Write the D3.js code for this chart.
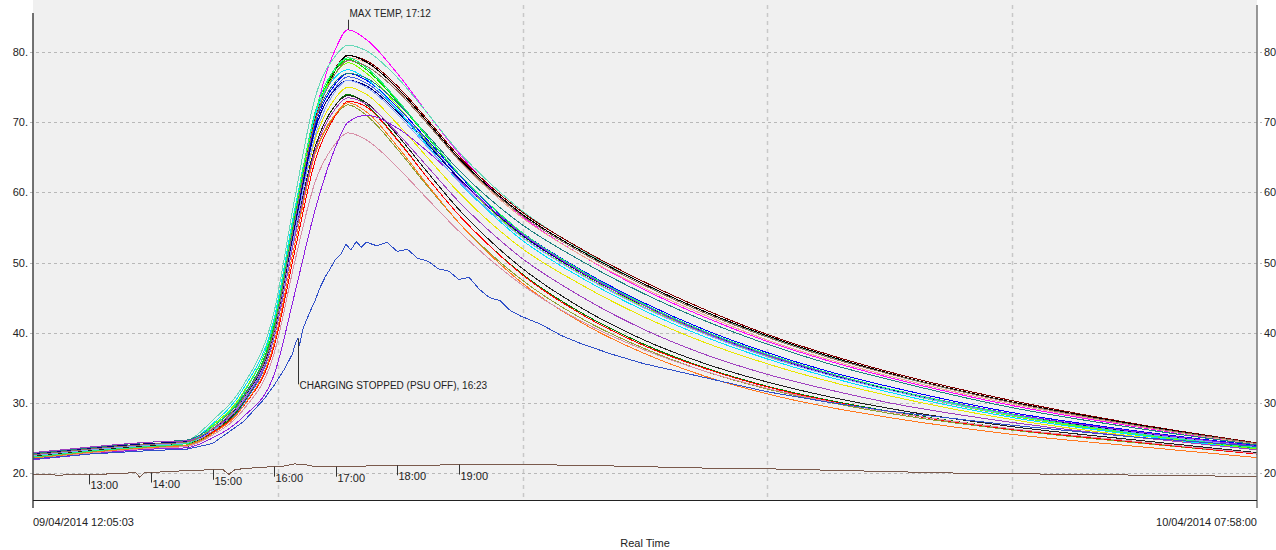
<!DOCTYPE html>
<html lang="en">
<head>
  <meta charset="UTF-8">
  <title>Cell temperatures - Real Time</title>
  <script src="https://d3js.org/d3.v7.min.js"></script>
  <style>
    body {
      margin: 0;
      background: #fff;
      font-family: 'Liberation Sans', Arial, sans-serif;
    }
    svg { display: block; }
    .lbl { font-size: 11px; fill: #222; }
    .note { font-size: 10px; fill: #222; }
    .trace { fill: none; stroke-width: 1; shape-rendering: crispEdges; }
  </style>
</head>
<body>
  <svg id="chart" width="1276" height="550"></svg>

  <script>
    // ---- data ----
    const startStamp = "12:05:03";
    const endStamp = "07:58:00";

    // common sample times for the cell probes (clock time, after midnight = next day)
    const sampleTimes = ["12:05:03", "13:00", "14:00", "14:35", "15:00", "15:30", "16:00", "16:20", "16:40",
      "17:00", "17:12", "17:30", "18:00", "18:30", "19:00", "19:30", "20:00", "21:00", "22:00", "23:00",
      "00:00", "01:00", "02:00", "04:00", "06:00", "07:58"];

    const probeColors = ["#ff00ff", "#66d9b8", "#f0a898", "#800000", "#000000", "#00e000", "#80ff00", "#e8e800",
      "#0000ff", "#4060e0", "#000080", "#00e0ff", "#008000", "#90a030", "#ff0000", "#ff7a20", "#202020",
      "#d890a8", "#9020e0", "#80a0ff", "#208080", "#20f080", "#a040c0", "#907060"];

    const probeValues = [
      [22.6, 23.3, 23.9, 24.2, 26.0, 30.2, 40.0, 55.0, 71.0, 80.5, 83.2, 81.8, 77.0, 71.2, 65.6, 60.8, 56.8, 51.0, 46.2, 42.2, 38.8, 36.0, 33.6, 29.6, 26.6, 24.1],
      [22.3, 23.2, 24.0, 24.6, 27.5, 32.5, 43.0, 59.0, 73.5, 79.5, 81.0, 80.2, 76.4, 71.2, 65.8, 61.4, 57.6, 51.8, 47.0, 43.0, 39.5, 36.6, 34.1, 30.0, 26.8, 24.3],
      [22.5, 23.3, 24.0, 24.3, 26.5, 31.0, 40.5, 56.0, 70.5, 77.5, 79.2, 78.5, 74.8, 69.8, 64.6, 60.3, 56.6, 51.0, 46.4, 42.5, 39.0, 36.2, 33.8, 29.8, 26.7, 24.1],
      [22.8, 23.5, 24.2, 24.4, 26.2, 30.6, 40.0, 55.5, 70.5, 77.8, 79.5, 78.8, 75.2, 70.3, 65.2, 61.0, 57.4, 51.9, 47.3, 43.3, 39.8, 36.9, 34.4, 30.3, 27.0, 24.3],
      [22.0, 22.9, 23.7, 24.0, 26.0, 30.6, 39.5, 55.0, 70.0, 77.5, 79.6, 78.6, 74.9, 70.0, 64.9, 60.7, 57.1, 51.6, 47.0, 43.0, 39.6, 36.7, 34.2, 30.1, 26.9, 24.2],
      [22.4, 23.2, 23.9, 24.2, 26.3, 30.8, 41.0, 56.5, 71.0, 77.5, 79.0, 77.5, 73.0, 67.8, 62.6, 58.2, 54.4, 48.7, 44.0, 40.1, 36.9, 34.2, 32.0, 28.3, 25.7, 23.5],
      [22.6, 23.4, 24.1, 24.5, 26.8, 31.5, 41.5, 57.0, 71.0, 77.0, 78.5, 77.0, 72.4, 67.2, 62.0, 57.7, 53.9, 48.3, 43.7, 39.9, 36.7, 34.0, 31.8, 28.1, 25.5, 23.4],
      [22.2, 23.0, 23.7, 24.0, 25.8, 30.0, 39.5, 54.5, 67.5, 73.5, 75.0, 74.0, 69.8, 64.9, 60.0, 55.8, 52.2, 46.8, 42.3, 38.6, 35.6, 33.1, 31.0, 27.6, 25.2, 23.3],
      [22.5, 23.3, 24.0, 24.3, 26.2, 30.5, 40.3, 55.5, 69.5, 75.5, 77.0, 76.0, 72.2, 67.4, 62.5, 58.2, 54.5, 48.9, 44.3, 40.4, 37.2, 34.5, 32.3, 28.6, 26.0, 23.9],
      [22.1, 22.9, 23.6, 23.9, 25.7, 29.8, 39.3, 54.5, 68.8, 75.0, 76.5, 75.6, 71.8, 67.0, 62.1, 57.9, 54.2, 48.6, 44.0, 40.1, 36.9, 34.2, 32.0, 28.4, 25.8, 23.7],
      [22.7, 23.5, 24.2, 24.5, 26.3, 30.6, 40.0, 55.0, 69.0, 74.8, 76.0, 75.2, 71.5, 66.8, 62.0, 57.8, 54.1, 48.5, 43.9, 40.0, 36.8, 34.1, 31.9, 28.4, 25.8, 23.8],
      [22.3, 23.1, 23.9, 24.4, 27.0, 32.0, 42.0, 57.5, 71.0, 76.5, 77.5, 76.2, 71.8, 66.6, 61.5, 57.2, 53.4, 47.8, 43.2, 39.4, 36.3, 33.7, 31.5, 27.9, 25.4, 23.3],
      [22.0, 22.8, 23.5, 23.8, 25.8, 30.0, 39.5, 54.0, 66.5, 72.5, 74.0, 72.5, 67.6, 62.0, 56.8, 52.4, 48.6, 42.8, 38.4, 35.0, 32.4, 30.4, 28.8, 26.3, 24.5, 22.8],
      [22.2, 23.0, 23.7, 24.0, 25.9, 30.2, 39.5, 53.5, 65.5, 71.0, 72.5, 71.0, 66.2, 60.8, 55.7, 51.4, 47.7, 42.0, 37.8, 34.5, 32.0, 30.1, 28.5, 26.1, 24.3, 22.7],
      [22.6, 23.3, 23.9, 24.2, 25.8, 29.5, 38.0, 51.5, 64.5, 71.0, 73.0, 72.2, 67.5, 62.0, 56.8, 52.4, 48.5, 42.6, 38.2, 34.9, 32.3, 30.3, 28.7, 26.2, 24.4, 22.7],
      [22.1, 22.9, 23.6, 23.9, 25.6, 29.5, 38.5, 52.5, 65.5, 71.2, 72.8, 71.5, 66.6, 61.0, 55.7, 51.2, 47.3, 41.4, 37.1, 33.8, 31.3, 29.4, 27.9, 25.5, 23.8, 22.2],
      [22.4, 23.2, 23.9, 24.2, 26.0, 30.2, 39.7, 54.0, 66.5, 72.5, 73.8, 72.8, 68.2, 62.8, 57.6, 53.2, 49.4, 43.5, 39.0, 35.6, 33.0, 30.9, 29.2, 26.6, 24.7, 22.9],
      [22.0, 22.8, 23.5, 23.8, 25.4, 29.0, 37.0, 50.0, 61.5, 67.0, 68.5, 67.5, 63.6, 59.0, 54.5, 50.5, 47.0, 41.6, 37.6, 34.5, 32.1, 30.2, 28.7, 26.3, 24.5, 22.8],
      [21.9, 22.7, 23.4, 23.6, 25.0, 28.0, 34.0, 45.5, 57.5, 66.5, 70.0, 71.0, 69.2, 65.8, 61.8, 57.9, 54.3, 48.6, 43.9, 40.0, 36.8, 34.2, 32.0, 28.4, 25.9, 23.8],
      [22.5, 23.3, 24.0, 24.3, 26.0, 30.4, 39.5, 54.2, 68.0, 74.5, 76.0, 75.0, 71.2, 66.4, 61.6, 57.4, 53.8, 48.2, 43.6, 39.8, 36.6, 34.0, 31.8, 28.2, 25.7, 23.7],
      [22.8, 23.6, 24.4, 24.7, 26.6, 31.0, 40.5, 56.0, 70.0, 75.8, 77.0, 76.3, 72.8, 68.1, 63.2, 59.1, 55.6, 50.2, 45.6, 41.7, 38.4, 35.6, 33.3, 29.3, 26.4, 24.0],
      [22.3, 23.1, 23.8, 24.2, 26.6, 31.3, 41.5, 57.0, 71.5, 77.8, 79.2, 77.8, 73.2, 67.9, 62.7, 58.3, 54.5, 48.8, 44.1, 40.2, 37.0, 34.3, 32.0, 28.3, 25.6, 23.6],
      [22.9, 23.7, 24.4, 24.6, 26.2, 30.2, 39.3, 53.5, 66.0, 72.0, 73.5, 72.6, 68.5, 63.6, 58.7, 54.5, 50.8, 45.1, 40.5, 36.9, 34.1, 31.9, 30.0, 27.2, 25.1, 23.3],
      [22.6, 23.4, 24.1, 24.4, 26.3, 30.7, 40.3, 55.8, 70.2, 77.0, 78.8, 78.0, 74.5, 69.7, 64.7, 60.5, 56.9, 51.4, 46.8, 42.8, 39.4, 36.5, 34.1, 30.0, 26.8, 24.2]
    ];

    // probe on the cell that stayed cool (logged with visible noise)
    const psuProbeColor = "#3050c8";
    const psuProbeTimes = ["12:05:03", "13:00", "14:00", "14:35", "15:00", "15:30", "15:50", "16:00", "16:10", "16:18",
      "16:21", "16:23", "16:25", "16:28", "16:35", "16:40", "16:45", "16:50", "16:55", "17:00", "17:05", "17:10",
      "17:15", "17:20", "17:25", "17:30", "17:40", "17:50", "18:00", "18:10", "18:20", "18:30", "18:40", "18:50",
      "19:00", "19:10", "19:20", "19:30", "19:40", "19:50", "20:00", "20:20", "20:40", "21:00", "21:30", "22:00",
      "22:30", "23:00", "00:00", "01:00", "02:00", "04:00", "06:00", "07:58"];
    const psuProbeValues = [22.0, 22.7, 23.2, 23.4, 24.2, 27.3, 30.5, 32.5, 34.8, 37.0,
      38.6, 39.2, 38.3, 40.5, 43.0, 44.6, 46.5, 48.0, 49.2, 50.5, 51.2, 52.6,
      51.8, 53.0, 52.2, 52.9, 52.4, 52.9, 51.6, 51.9, 50.6, 50.2, 49.1, 48.8,
      47.6, 47.9, 46.2, 45.0, 44.6, 43.2, 42.4, 41.2, 39.6, 38.4, 36.9, 35.6,
      34.6, 33.6, 31.6, 30.1, 28.8, 26.8, 25.1, 23.8];

    // room (ambient) probe
    const ambientColor = "#7a5a4c";
    const ambientTimes = ["12:05:03", "12:30", "13:00", "13:30", "13:45", "13:49", "13:53", "14:15", "14:45", "15:10",
      "15:16", "15:22", "15:45", "16:00", "16:10", "16:20", "16:30", "16:40", "17:00", "17:30", "18:00", "18:30",
      "19:00", "20:00", "21:00", "22:00", "23:00", "00:00", "01:00", "02:00", "03:00", "04:00", "05:00", "06:00",
      "07:00", "07:58"];
    const ambientValues = [19.8, 19.7, 19.8, 19.9, 20.1, 19.4, 20.0, 20.2, 20.4, 20.5,
      19.8, 20.5, 20.8, 20.9, 21.0, 21.3, 21.2, 20.9, 20.9, 21.0, 21.1, 21.1,
      21.2, 21.2, 21.1, 20.9, 20.7, 20.6, 20.4, 20.2, 20.0, 19.9, 19.8, 19.7,
      19.6, 19.5];

    // hourly markers on the ambient trace
    const hourMarks = ["13:00", "14:00", "15:00", "16:00", "17:00", "18:00", "19:00"];

    const yTicks = [20, 30, 40, 50, 60, 70, 80];

    // ---- helpers ----
    const parseClock = d3.timeParse("%Y-%m-%d %H:%M:%S");
    function toDate(s) {
      const full = s.length === 5 ? s + ":00" : s;
      const day = +full.slice(0, 2) < 12 ? "2014-04-10" : "2014-04-09";
      return parseClock(day + " " + full);
    }

    // ---- layout ----
    const plotL = 33, plotR = 1257, plotT = 5, plotB = 500;

    const svg = d3.select("#chart");

    const x = d3.scaleTime()
      .domain([toDate(startStamp), toDate(endStamp)])
      .range([plotL, plotR]);

    const y = d3.scaleLinear()
      .domain([16.15, 86.73])
      .range([plotB, plotT]);

    // plot background
    svg.append("rect")
      .attr("x", plotL).attr("y", 0)
      .attr("width", plotR - plotL).attr("height", plotB)
      .attr("fill", "#f0f0f0");

    // horizontal grid
    svg.append("g")
      .selectAll("line")
      .data(yTicks)
      .join("line")
      .attr("x1", plotL - 3).attr("x2", plotR + 5)
      .attr("y1", d => Math.round(y(d)) + 0.5).attr("y2", d => Math.round(y(d)) + 0.5)
      .attr("stroke", "#b8b8b8")
      .attr("stroke-dasharray", "3,3");

    // vertical grid (5 equal divisions)
    svg.append("g")
      .selectAll("line")
      .data([1, 2, 3, 4])
      .join("line")
      .attr("x1", d => Math.round(plotL + (plotR - plotL) * d / 5) + 0.5)
      .attr("x2", d => Math.round(plotL + (plotR - plotL) * d / 5) + 0.5)
      .attr("y1", plotT).attr("y2", plotB)
      .attr("stroke", "#c8c8c8")
      .attr("stroke-dasharray", "4,4")
      .attr("stroke-width", 1.5);

    // y labels both sides
    svg.append("g")
      .selectAll("text")
      .data(yTicks)
      .join("text")
      .attr("class", "lbl")
      .attr("x", plotL - 5).attr("y", d => y(d) + 4)
      .attr("text-anchor", "end")
      .text(d => d + ".");

    svg.append("g")
      .selectAll("text")
      .data(yTicks)
      .join("text")
      .attr("class", "lbl")
      .attr("x", plotR + 7).attr("y", d => y(d) + 4)
      .text(d => d);

    // traces
    const smooth = d3.line()
      .x(d => x(d.t))
      .y(d => y(d.v))
      .curve(d3.curveMonotoneX);
    const raw = d3.line().x(d => x(d.t)).y(d => y(d.v));

    const probeData = probeValues.map(vals => vals.map((v, i) => ({ t: toDate(sampleTimes[i]), v })));
    const psuData = psuProbeValues.map((v, i) => ({ t: toDate(psuProbeTimes[i]), v }));
    const ambientData = ambientValues.map((v, i) => ({ t: toDate(ambientTimes[i]), v }));

    svg.append("g")
      .selectAll("path")
      .data(probeData)
      .join("path")
      .attr("class", "trace")
      .attr("stroke", (d, i) => probeColors[i])
      .attr("d", smooth);

    svg.append("path")
      .datum(psuData)
      .attr("class", "trace")
      .attr("stroke", psuProbeColor)
      .attr("d", raw);

    svg.append("path")
      .datum(ambientData)
      .attr("class", "trace")
      .attr("stroke", ambientColor)
      .attr("d", raw);

    // value at a time on a trace (linear between samples)
    function valueAt(data, t) {
      const i = d3.bisector(d => d.t).right(data, t);
      const a = data[Math.max(0, i - 1)], b = data[Math.min(data.length - 1, i)];
      if (a === b) return a.v;
      const f = (t - a.t) / (b.t - a.t);
      return a.v + (b.v - a.v) * f;
    }

    // hourly markers
    const marks = svg.append("g");
    hourMarks.forEach(h => {
      const t = toDate(h);
      const px = Math.round(x(t)) + 0.5;
      const py = y(valueAt(ambientData, t));
      marks.append("line")
        .attr("x1", px).attr("x2", px)
        .attr("y1", py).attr("y2", py + 10)
        .attr("stroke", "#333");
      marks.append("text")
        .attr("class", "lbl")
        .attr("x", px + 1).attr("y", py + 15)
        .text(h);
    });

    // event notes
    const eventNotes = [
      { time: "17:12", trace: probeData[0], up: true, text: "MAX TEMP, 17:12" },
      { time: "16:23", trace: psuData, up: false, text: "CHARGING STOPPED (PSU OFF), 16:23" }
    ];
    eventNotes.forEach(n => {
      const t = toDate(n.time);
      const px = Math.round(x(t)) + 0.5;
      const py = y(valueAt(n.trace, t));
      const end = n.up ? py - 10 : py + 46;
      svg.append("line")
        .attr("x1", px).attr("x2", px)
        .attr("y1", py).attr("y2", end)
        .attr("stroke", "#333");
      svg.append("text")
        .attr("class", "note")
        .attr("x", px + 1).attr("y", n.up ? end - 3 : end + 5)
        .text(n.text);
    });

    // axes frame
    svg.append("line")
      .attr("x1", plotL).attr("x2", plotL).attr("y1", plotT + 8).attr("y2", plotB + 8)
      .attr("stroke", "#444").attr("stroke-width", 1.5);
    svg.append("line")
      .attr("x1", plotR).attr("x2", plotR).attr("y1", plotT).attr("y2", plotB + 8)
      .attr("stroke", "#777").attr("stroke-width", 1.5);
    svg.append("line")
      .attr("x1", plotL).attr("x2", plotR).attr("y1", plotB + 0.5).attr("y2", plotB + 0.5)
      .attr("stroke", "#222");

    // bottom labels
    const fmt = d3.timeFormat("%d/%m/%Y %H:%M:%S");
    svg.append("text").attr("class", "lbl")
      .attr("x", plotL).attr("y", 526)
      .text(fmt(x.domain()[0]));
    svg.append("text").attr("class", "lbl")
      .attr("x", plotR).attr("y", 526)
      .attr("text-anchor", "end")
      .text(fmt(x.domain()[1]));
    svg.append("text").attr("class", "lbl")
      .attr("x", (plotL + plotR) / 2).attr("y", 547)
      .attr("text-anchor", "middle")
      .text("Real Time");
  </script>
</body>
</html>
